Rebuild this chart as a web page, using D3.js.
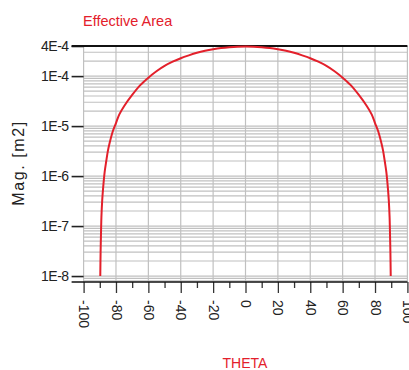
<!DOCTYPE html>
<html>
<head>
<meta charset="utf-8">
<script src="https://cdn.jsdelivr.net/npm/d3@7"></script>
<style>
  html, body { margin: 0; padding: 0; background: #ffffff; }
  svg { display: block; font-family: "Liberation Sans", Arial, sans-serif; }
</style>
</head>
<body>
<div id="chart"></div>
<script>
// values (theta in degrees, effective area in m2)
const theta = [-89.7, -89.5, -89.3, -89, -88.5, -88, -87, -86, -85, -84, -82, -80, -78, -75, -70, -65, -60, -55, -50, -45, -40, -35, -30, -25, -20, -15, -10, -5, 0,
  5, 10, 15, 20, 25, 30, 35, 40, 45, 50, 55, 60, 65, 70, 75, 78, 80, 82, 84, 85, 86, 87, 88, 88.5, 89, 89.3, 89.5, 89.7];
const area = [1e-8, 3e-8, 6e-8, 1.5e-7, 3.3e-7, 5.5e-7, 1.2e-6, 2.0e-6, 3.2e-6, 4.5e-6, 7.8e-6, 1.15e-5, 1.7e-5, 2.5e-5, 4.2e-5, 6.6e-5, 9.3e-5, 1.25e-4, 1.6e-4, 1.94e-4, 2.28e-4, 2.6e-4, 2.92e-4, 3.2e-4, 3.44e-4, 3.64e-4, 3.78e-4, 3.87e-4, 3.9e-4,
  3.87e-4, 3.78e-4, 3.64e-4, 3.44e-4, 3.2e-4, 2.92e-4, 2.6e-4, 2.28e-4, 1.94e-4, 1.6e-4, 1.25e-4, 9.3e-5, 6.6e-5, 4.2e-5, 2.5e-5, 1.7e-5, 1.15e-5, 7.8e-6, 4.5e-6, 3.2e-6, 2.0e-6, 1.2e-6, 5.5e-7, 3.3e-7, 1.5e-7, 6e-8, 3e-8, 1e-8];
const yTicks = [4e-4, 1e-4, 1e-5, 1e-6, 1e-7, 1e-8];
const yTickLabels = ['4E-4', '1E-4', '1E-5', '1E-6', '1E-7', '1E-8'];
const xMajor = [-100, -80, -60, -40, -20, 0, 20, 40, 60, 80, 100];
const xMinor = [-90, -70, -50, -30, -10, 10, 30, 50, 70, 90];

const width = 409, height = 370;
const red = '#e3202b';
const yMin = 7.6e-9, yMax = 4e-4;

const svg = d3.select('#chart')
  .append('svg')
  .attr('width', width)
  .attr('height', height);

const x = d3.scaleLinear().domain([-100, 100]).range([83.6, 407.4]);
const y = d3.scaleLog().domain([yMin, yMax]).range([282, 46]);

// horizontal log grid (1..9 per decade)
const gridVals = [];
for (let p = -9; p <= -4; p++) {
  for (let k = 1; k <= 9; k++) {
    const v = k * Math.pow(10, p);
    if (v >= yMin && v < yMax) gridVals.push(v);
  }
}

svg.append('g')
  .selectAll('line')
  .data(gridVals)
  .enter()
  .append('line')
  .attr('x1', x(-100))
  .attr('x2', x(100))
  .attr('y1', d => y(d))
  .attr('y2', d => y(d))
  .attr('stroke', '#c0c0c0')
  .attr('stroke-width', 1.2);

// vertical grid
svg.append('g')
  .selectAll('line')
  .data(xMajor)
  .enter()
  .append('line')
  .attr('x1', d => x(d))
  .attr('x2', d => x(d))
  .attr('y1', y(yMax))
  .attr('y2', y(yMin))
  .attr('stroke', '#c0c0c0')
  .attr('stroke-width', 1.2);

// x axis: minor then major ticks
const xAxisMinor = d3.axisBottom(x).tickValues(xMinor).tickSize(6).tickFormat('');
const xAxisMajor = d3.axisBottom(x).tickValues(xMajor).tickSize(11).tickFormat(d3.format('d'));

svg.append('g')
  .attr('transform', `translate(0, ${y(yMin)})`)
  .call(xAxisMinor)
  .call(g => g.select('.domain').remove())
  .call(g => g.selectAll('line').attr('stroke', '#333').attr('stroke-width', 1.3));

const gx = svg.append('g')
  .attr('transform', `translate(0, ${y(yMin)})`)
  .call(xAxisMajor)
  .call(g => g.select('.domain').remove());

gx.selectAll('line').attr('stroke', '#333').attr('stroke-width', 1.3);
gx.selectAll('text')
  .attr('font-size', '14px')
  .attr('fill', '#222')
  .attr('text-anchor', 'start')
  .attr('dy', '0.35em')
  .attr('y', 0)
  .attr('transform', 'translate(0, 18) rotate(90)')
  .text(d => d < 0 ? '-' + Math.abs(d) : d);

// y axis
const yAxis = d3.axisLeft(y)
  .tickValues(yTicks)
  .tickSize(12)
  .tickPadding(3)
  .tickFormat((d, i) => yTickLabels[i]);

const gy = svg.append('g')
  .attr('transform', `translate(${x(-100)}, 0)`)
  .call(yAxis)
  .call(g => g.select('.domain').remove());

gy.selectAll('line').attr('stroke', '#222').attr('stroke-width', 1.6);
gy.selectAll('text')
  .attr('font-size', '14px')
  .attr('fill', '#222')
  .attr('letter-spacing', '-0.5px');

// frame lines
svg.append('line')
  .attr('x1', x(-100) - 12).attr('x2', x(100))
  .attr('y1', y(yMax)).attr('y2', y(yMax))
  .attr('stroke', '#111').attr('stroke-width', 2.2);

svg.append('line')
  .attr('x1', x(-100) - 12).attr('x2', x(100))
  .attr('y1', y(yMin)).attr('y2', y(yMin))
  .attr('stroke', '#111').attr('stroke-width', 1.6);

// curve
const pts = theta.map((t, i) => [t, area[i]]);
const line = d3.line()
  .x(d => x(d[0]))
  .y(d => y(d[1]))
  .curve(d3.curveCatmullRom.alpha(0.5));

svg.append('path')
  .datum(pts)
  .attr('d', line)
  .attr('fill', 'none')
  .attr('stroke', red)
  .attr('stroke-width', 2);

// titles
svg.append('text')
  .attr('x', 83)
  .attr('y', 26)
  .attr('font-size', '14.5px')
  .attr('fill', red)
  .text('Effective Area');

svg.append('text')
  .attr('x', 245)
  .attr('y', 368)
  .attr('text-anchor', 'middle')
  .attr('font-size', '14px')
  .attr('fill', red)
  .text('THETA');

svg.append('text')
  .attr('transform', 'translate(24, 163) rotate(-90)')
  .attr('text-anchor', 'middle')
  .attr('font-size', '16px')
  .attr('letter-spacing', '1.6px')
  .attr('fill', '#222')
  .text('Mag. [m2]');
</script>
</body>
</html>
